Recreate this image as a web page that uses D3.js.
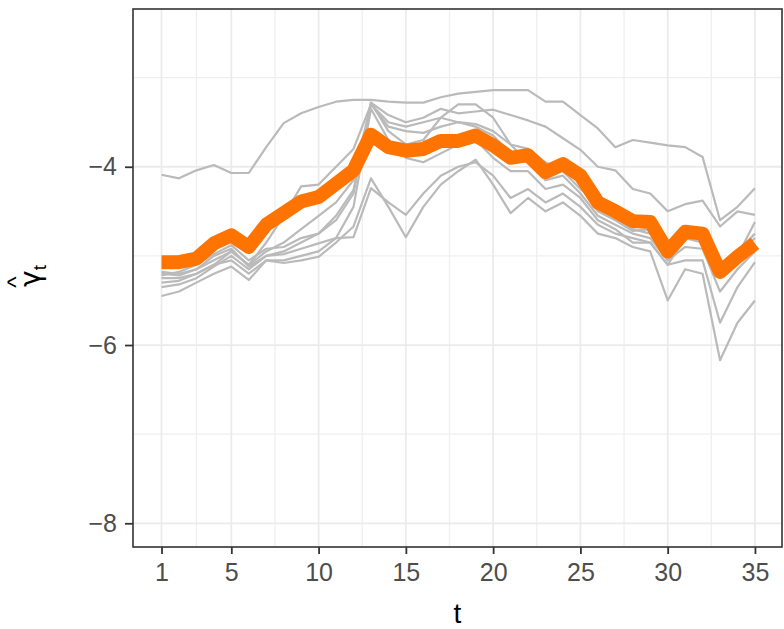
<!DOCTYPE html>
<html>
<head>
<meta charset="utf-8">
<script src="https://cdn.jsdelivr.net/npm/d3@7"></script>
<style>
  body { margin: 0; background: #fff; }
  text { font-family: "Liberation Sans", Arial, sans-serif; }
</style>
</head>
<body>
<svg id="chart" width="784" height="629"></svg>
<script>
let width = 784,
  height = 629;

let panel = { left: 133, right: 782, top: 9, bottom: 547 };

let t_values = d3.range(1, 36);
let x_ticks = [1, 5, 10, 15, 20, 25, 30, 35];
let x_minor = [3, 7.5, 12.5, 17.5, 22.5, 27.5, 32.5];
let y_ticks = [-8, -6, -4];
let y_minor = [-7, -5, -3];

// mean estimate (orange)
let mean_gamma = [-5.07, -5.07, -5.03, -4.86, -4.77, -4.90, -4.65, -4.52, -4.39, -4.34,
  -4.19, -4.04, -3.64, -3.78, -3.82, -3.80, -3.71, -3.71, -3.65, -3.76,
  -3.90, -3.87, -4.06, -3.97, -4.10, -4.40, -4.50, -4.61, -4.62, -4.95,
  -4.73, -4.75, -5.18, -5.01, -4.86];

// individual estimates (grey)
let g1 = [-4.09, -4.13, -4.04, -3.98, -4.07, -4.07, -3.78, -3.51, -3.40, -3.33,
  -3.27, -3.25, -3.25, -3.27, -3.28, -3.28, -3.22, -3.18, -3.16, -3.14,
  -3.14, -3.14, -3.27, -3.27, -3.42, -3.57, -3.78, -3.70, -3.73, -3.76,
  -3.78, -3.89, -4.60, -4.45, -4.24];
let g2 = [-5.20, -5.22, -5.15, -5.05, -4.95, -5.10, -4.95, -4.85, -4.70, -4.55,
  -4.40, -4.15, -3.28, -3.42, -3.50, -3.45, -3.35, -3.40, -3.38, -3.36,
  -3.42, -3.48, -3.55, -3.68, -3.81, -4.00, -4.04, -4.25, -4.30, -4.50,
  -4.42, -4.38, -4.67, -4.50, -4.54];
let g3 = [-5.30, -5.28, -5.20, -5.10, -4.95, -5.10, -4.85, -4.55, -4.22, -4.20,
  -4.00, -3.80, -3.30, -3.55, -3.60, -3.62, -3.55, -3.50, -3.52, -3.60,
  -3.75, -3.80, -3.95, -4.05, -4.25, -4.40, -4.55, -4.70, -4.75, -5.05,
  -4.75, -4.70, -5.25, -5.00, -4.80];
let g4 = [-5.35, -5.32, -5.25, -5.12, -5.00, -5.15, -5.00, -4.95, -4.85, -4.75,
  -4.60, -4.30, -3.28, -3.60, -3.75, -3.70, -3.45, -3.30, -3.30, -3.45,
  -3.75, -3.95, -4.15, -4.10, -4.30, -4.55, -4.65, -4.75, -4.80, -5.05,
  -4.90, -4.92, -5.40, -5.15, -4.95];
let g5 = [-5.45, -5.40, -5.30, -5.20, -5.12, -5.27, -5.05, -5.05, -5.00, -4.95,
  -4.80, -4.45, -3.35, -3.70, -3.90, -3.95, -3.85, -3.75, -3.70, -3.90,
  -4.05, -4.05, -4.25, -4.20, -4.35, -4.60, -4.70, -4.85, -4.85, -5.10,
  -5.05, -5.05, -5.75, -5.35, -5.07];
let g6 = [-5.25, -5.25, -5.20, -5.10, -5.05, -5.20, -5.05, -5.08, -5.05, -5.01,
  -4.85, -4.67, -4.13, -4.45, -4.79, -4.45, -4.20, -4.05, -3.92, -4.20,
  -4.52, -4.35, -4.50, -4.40, -4.55, -4.75, -4.80, -4.90, -4.95, -5.50,
  -5.15, -5.20, -6.17, -5.75, -5.50];
let g7 = [-5.18, -5.20, -5.15, -5.00, -4.92, -5.12, -5.00, -4.98, -4.92, -4.86,
  -4.80, -4.79, -4.24, -4.40, -4.54, -4.30, -4.10, -4.00, -3.95, -4.10,
  -4.35, -4.25, -4.40, -4.30, -4.45, -4.65, -4.75, -4.80, -4.85, -5.10,
  -4.80, -4.85, -5.20, -5.00, -4.62];
let g8 = [-5.22, -5.18, -5.10, -4.98, -4.88, -5.05, -4.92, -4.90, -4.80, -4.75,
  -4.55, -4.26, -3.30, -3.50, -3.55, -3.50, -3.45, -3.50, -3.55, -3.65,
  -3.85, -3.85, -4.05, -4.00, -4.20, -4.50, -4.60, -4.72, -4.70, -4.95,
  -4.70, -4.72, -5.15, -4.95, -4.75];

let grey_series = [g1, g2, g3, g4, g5, g6, g7, g8];

function make_scales() {
  return {
    x: d3.scaleLinear()
      .domain([-0.633, 36.55])
      .range([panel.left, panel.right]),
    y: d3.scaleLinear()
      .domain([-8.266, -2.23])
      .range([panel.bottom, panel.top])
  }
}

function draw_grid(svg, scales) {
  let grid = svg.append("g")

  grid.selectAll(".vminor")
    .data(x_minor).enter()
    .append("line")
    .attr("x1", d => scales.x(d)).attr("x2", d => scales.x(d))
    .attr("y1", panel.top).attr("y2", panel.bottom)
    .attr("stroke", "#efefef").attr("stroke-width", 1.3)

  grid.selectAll(".hminor")
    .data(y_minor).enter()
    .append("line")
    .attr("x1", panel.left).attr("x2", panel.right)
    .attr("y1", d => scales.y(d)).attr("y2", d => scales.y(d))
    .attr("stroke", "#efefef").attr("stroke-width", 1.3)

  grid.selectAll(".vmajor")
    .data(x_ticks).enter()
    .append("line")
    .attr("x1", d => scales.x(d)).attr("x2", d => scales.x(d))
    .attr("y1", panel.top).attr("y2", panel.bottom)
    .attr("stroke", "#ebebeb").attr("stroke-width", 1.8)

  grid.selectAll(".hmajor")
    .data(y_ticks).enter()
    .append("line")
    .attr("x1", panel.left).attr("x2", panel.right)
    .attr("y1", d => scales.y(d)).attr("y2", d => scales.y(d))
    .attr("stroke", "#ebebeb").attr("stroke-width", 1.8)
}

function draw_lines(svg, scales) {
  let line_gen = d3.line()
    .x((d, i) => scales.x(t_values[i]))
    .y(d => scales.y(d))

  svg.append("g")
    .selectAll("path")
    .data(grey_series).enter()
    .append("path")
    .attr("d", line_gen)
    .attr("fill", "none")
    .attr("stroke", "#bababa")
    .attr("stroke-width", 2.2)
    .attr("stroke-linejoin", "round")

  svg.append("path")
    .datum(mean_gamma)
    .attr("d", line_gen)
    .attr("fill", "none")
    .attr("stroke", "#ff7400")
    .attr("stroke-width", 14)
    .attr("stroke-linejoin", "round")
    .attr("stroke-linecap", "butt")
}

function draw_axes(svg, scales) {
  svg.append("rect")
    .attr("x", panel.left).attr("y", panel.top)
    .attr("width", panel.right - panel.left)
    .attr("height", panel.bottom - panel.top)
    .attr("fill", "none")
    .attr("stroke", "#333333")
    .attr("stroke-width", 1.6)

  let axis = {
    x: d3.axisBottom(scales.x).tickValues(x_ticks).tickSize(7).tickPadding(9),
    y: d3.axisLeft(scales.y).tickValues(y_ticks).tickSize(8).tickPadding(8)
      .tickFormat(d => "\u2212" + Math.abs(d))
  }

  let gx = svg.append("g")
    .attr("transform", `translate(0,${panel.bottom})`)
    .call(axis.x)
  let gy = svg.append("g")
    .attr("transform", `translate(${panel.left},0)`)
    .call(axis.y)

  for (let g of [gx, gy]) {
    g.select(".domain").remove()
    g.selectAll(".tick line").attr("stroke", "#333333").attr("stroke-width", 1.8)
    g.selectAll(".tick text")
      .attr("fill", "#4d4d4d")
      .style("font-size", "25px")
      .style("font-family", "Liberation Sans, Arial, sans-serif")
  }

  // x title
  svg.append("text")
    .attr("x", (panel.left + panel.right) / 2)
    .attr("y", 623)
    .attr("text-anchor", "middle")
    .style("font-size", "28px")
    .attr("fill", "#000")
    .text("t")

  // y title: gamma hat with subscript t
  let ytitle = svg.append("g")
    .attr("transform", "translate(40,276) rotate(-90)")
  let yt = ytitle.append("text")
    .attr("text-anchor", "middle")
    .style("font-size", "28px")
    .style("font-family", "DejaVu Sans, sans-serif")
    .attr("fill", "#000")
  yt.append("tspan").text("\u03b3")
  yt.append("tspan").attr("dy", 6).style("font-size", "19px")
    .style("font-family", "Liberation Sans, Arial, sans-serif").text("t")
  ytitle.append("text")
    .attr("x", -6)
    .attr("y", -16)
    .attr("text-anchor", "middle")
    .style("font-size", "24px")
    .attr("fill", "#000")
    .text("^")
}

function visualize() {
  let svg = d3.select("#chart")
  svg.append("rect").attr("width", width).attr("height", height).attr("fill", "#fff")
  let scales = make_scales()
  draw_grid(svg, scales)
  draw_lines(svg, scales)
  draw_axes(svg, scales)
}

visualize()
</script>
</body>
</html>
